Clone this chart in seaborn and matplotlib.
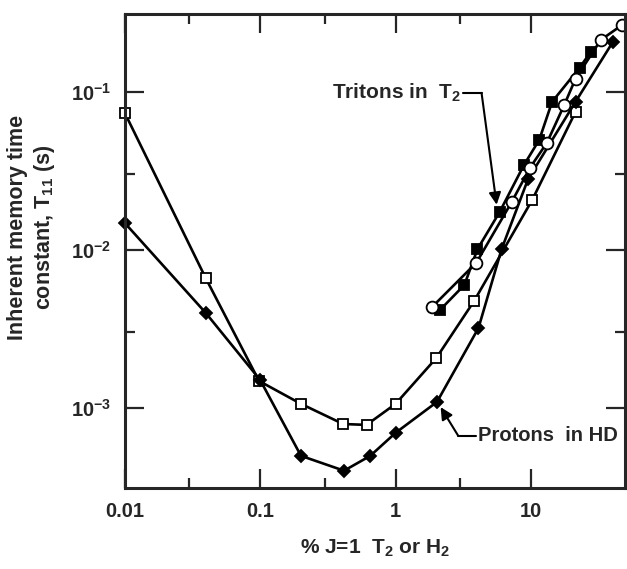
import pandas as pd
import matplotlib.pyplot as plt
import seaborn as sns
from matplotlib.ticker import FixedLocator, FixedFormatter, NullFormatter

# protons in H2 (open squares)
h2_x = [0.01, 0.0395, 0.098, 0.2, 0.41, 0.61, 1.0, 2.0, 3.8, 10.2, 21.3]
h2_y = [0.0736, 0.00665, 0.00148, 0.00106, 0.00079, 0.00078, 0.00106,
        0.00207, 0.00475, 0.0207, 0.0747]

# protons in HD (filled diamonds)
hd_x = [0.01, 0.0395, 0.1, 0.2, 0.416, 0.65, 1.0, 2.02, 4.09, 6.06, 9.5,
        21.3, 40.2]
hd_y = [0.0148, 0.0040, 0.0015, 0.000497, 0.0004, 0.000497, 0.000695,
        0.00109, 0.0032, 0.0101, 0.028, 0.0865, 0.207]

# tritons in T2, run 1 (filled squares)
t2a_x = [2.13, 3.22, 4.02, 5.87, 8.87, 11.5, 14.3, 22.8, 27.6]
t2a_y = [0.00417, 0.0060, 0.0101, 0.0174, 0.0345, 0.0497, 0.0865, 0.142,
         0.179]

# tritons in T2, run 2 (open circles)
t2b_x = [1.86, 3.95, 7.2, 9.8, 13.1, 17.6, 21.3, 32.7, 47.0]
t2b_y = [0.00435, 0.0083, 0.0201, 0.033, 0.0476, 0.0828, 0.121, 0.213,
         0.265]

x_ticks = [0.01, 0.1, 1, 10]
x_ticklabels = ["0.01", "0.1", "1", "10"]
y_ticks = [1e-3, 1e-2, 1e-1]
y_ticklabels = ["10$^{-3}$", "10$^{-2}$", "10$^{-1}$"]

sns.set_style("ticks")
plt.rcParams["font.family"] = ["Liberation Sans", "DejaVu Sans"]
plt.rcParams["font.weight"] = "bold"
plt.rcParams["mathtext.fontset"] = "custom"
plt.rcParams["mathtext.rm"] = "Liberation Sans:bold"
plt.rcParams["mathtext.bf"] = "Liberation Sans:bold"
plt.rcParams["mathtext.it"] = "Liberation Sans:bold:italic"

fig = plt.figure(figsize=(6.27, 5.69), dpi=100)
ax = fig.add_axes([0.199, 0.142, 0.798, 0.833])

series = [
    (h2_x, h2_y, "s", "white", 7),
    (hd_x, hd_y, "D", "black", 6.5),
    (t2a_x, t2a_y, "s", "black", 7.5),
    (t2b_x, t2b_y, "o", "white", 8.5),
]
for xs, ys, mk, fc, ms in series:
    df = pd.DataFrame({"x": xs, "y": ys})
    sns.lineplot(data=df, x="x", y="y", ax=ax, color="black", lw=1.9,
                 marker=mk, markerfacecolor=fc, markeredgecolor="black",
                 markeredgewidth=1.3, markersize=ms, estimator=None,
                 sort=False, clip_on=False)

ax.set_xscale("log")
ax.set_yscale("log")
ax.set_xlim(0.01, 49.5)
ax.set_ylim(3.1e-4, 0.31)

ax.xaxis.set_major_locator(FixedLocator(x_ticks))
ax.xaxis.set_major_formatter(FixedFormatter(x_ticklabels))
ax.xaxis.set_minor_locator(FixedLocator([0.03, 0.3, 3]))
ax.xaxis.set_minor_formatter(NullFormatter())
ax.yaxis.set_major_locator(FixedLocator(y_ticks))
ax.yaxis.set_major_formatter(FixedFormatter(y_ticklabels))
ax.yaxis.set_minor_locator(FixedLocator([0.003, 0.03]))
ax.yaxis.set_minor_formatter(NullFormatter())

ax.tick_params(which="both", direction="in", top=True, right=True,
               width=1.6, labelsize=14.5)
ax.tick_params(which="major", length=14, pad=10)
ax.tick_params(which="minor", length=7)
for s in ax.spines.values():
    s.set_linewidth(2.2)

ax.set_xlabel("% J=1  T$_2$ or H$_2$", fontsize=15, fontweight="bold",
              labelpad=12)
ax.set_ylabel("Inherent memory time\nconstant, T$_{11}$ (s)", fontsize=15.5,
              fontweight="bold")
ax.yaxis.set_label_coords(-0.136, 0.55)

# Tritons label with leader
ax.text(0.339, 0.0985, "Tritons in  T$_2$", fontsize=15, fontweight="bold",
        ha="left", va="center")
ax.plot([3.16, 4.31], [0.0985, 0.0985], color="black", lw=1.5)
ax.annotate("", xy=(5.57, 0.0193), xytext=(4.31, 0.0985),
            arrowprops=dict(arrowstyle="-|>", color="black", lw=1.5,
                            mutation_scale=18, shrinkA=0, shrinkB=0))

# Protons label with leader
ax.text(4.09, 0.000665, "Protons  in HD", fontsize=14.5, fontweight="bold",
        ha="left", va="center")
ax.plot([2.9, 3.95], [0.000665, 0.000665], color="black", lw=1.5)
ax.annotate("", xy=(2.15, 0.00101), xytext=(2.9, 0.000665),
            arrowprops=dict(arrowstyle="-|>", color="black", lw=1.5,
                            mutation_scale=18, shrinkA=0, shrinkB=0))

fig.savefig("out.png", dpi=100)
